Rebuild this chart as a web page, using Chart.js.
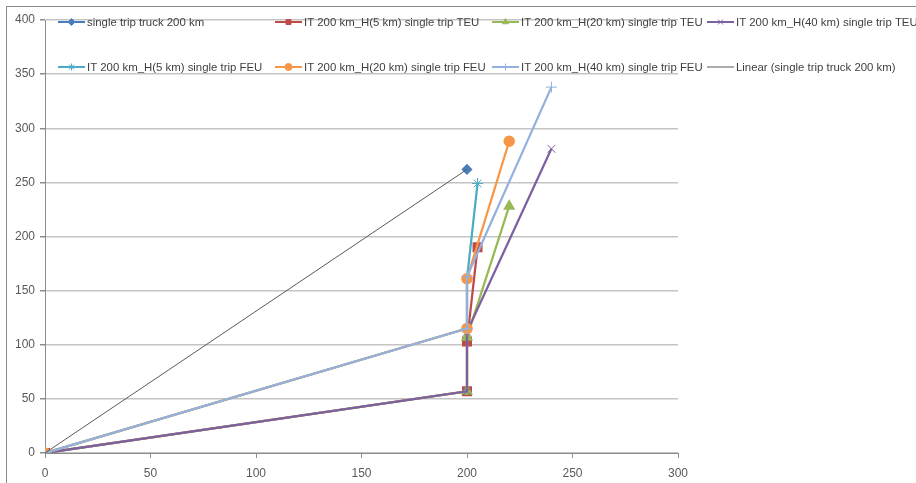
<!DOCTYPE html>
<html lang="en">
<head>
<meta charset="UTF-8">
<title>Single trip cost</title>
<script src="https://cdn.jsdelivr.net/npm/chart.js@4.4.0/dist/chart.umd.min.js"></script>
<style>
    html, body { margin: 0; padding: 0; background: #fff; }
    #wrap { position: relative; width: 916px; height: 483px; overflow: hidden; }
    #frame {
        position: absolute; left: 6px; top: 6px; width: 920px; height: 490px;
        border-left: 1px solid #8a8a8a; border-top: 1px solid #8a8a8a;
    }
    #costChart { position: absolute; left: 0; top: 0; }
</style>
</head>
<body>
<div id="wrap">
    <div id="frame"></div>
    <canvas id="costChart" width="916" height="483"></canvas>
</div>
<script>
    // x = distance (km), y = cost
    const truckX = [0, 200];
    const truckY = [0, 262];

    const teu5X = [0, 200, 200, 205];
    const teu5Y = [0, 57, 103, 190];
    const teu20X = [0, 200, 200, 220];
    const teu20Y = [0, 57, 107, 228];
    const teu40X = [0, 200, 200, 240];
    const teu40Y = [0, 57, 112, 281];

    const feu5X = [0, 200, 200, 205];
    const feu5Y = [0, 115, 161, 249];
    const feu20X = [0, 200, 200, 220];
    const feu20Y = [0, 115, 161, 288];
    const feu40X = [0, 200, 200, 240];
    const feu40Y = [0, 115, 163, 338];

    const trendX = [0, 200];
    const trendY = [0, 262];

    const seriesLabels = [
        'single trip truck 200 km',
        'IT 200 km_H(5 km) single trip TEU',
        'IT 200 km_H(20 km) single trip TEU',
        'IT 200 km_H(40 km) single trip TEU',
        'IT 200 km_H(5 km) single trip FEU',
        'IT 200 km_H(20 km) single trip FEU',
        'IT 200 km_H(40 km) single trip FEU',
        'Linear (single trip truck 200 km)'
    ];
    const xTicks = [0, 50, 100, 150, 200, 250, 300];
    const yTicks = [0, 50, 100, 150, 200, 250, 300, 350, 400];

    function pts(xs, ys) {
        return xs.map((x, i) => ({x: x, y: ys[i]}));
    }

    function series(idx, xs, ys, color, style, extra) {
        return Object.assign({
            label: seriesLabels[idx],
            data: pts(xs, ys),
            showLine: true,
            borderColor: color,
            backgroundColor: color,
            borderWidth: 2.25,
            pointStyle: style,
            pointRadius: 5,
            pointBorderWidth: 1.5,
            pointBorderColor: color,
            pointBackgroundColor: color,
            order: 8 - idx
        }, extra || {});
    }

    const datasets = [
        series(0, truckX, truckY, '#4a7ebb', 'rectRot', {showLine: false, pointRadius: 4.5}),
        series(1, teu5X, teu5Y, '#be4b48', 'rect', {pointRadius: 6}),
        series(2, teu20X, teu20Y, '#98b954', 'triangle', {pointRadius: 5.5}),
        series(3, teu40X, teu40Y, '#7d60a0', 'crossRot', {pointRadius: 5.5, pointBorderWidth: 1}),
        series(4, feu5X, feu5Y, '#4bacc6', 'star', {pointRadius: 5.5, pointBorderWidth: 1}),
        series(5, feu20X, feu20Y, '#f79646', 'circle', {pointRadius: 5}),
        series(6, feu40X, feu40Y, '#93b1dc', 'cross', {pointRadius: 5.5, pointBorderWidth: 1}),
        series(7, trendX, trendY, '#5a5a5a', false, {borderWidth: 1, pointRadius: 0, order: 0})
    ];

    // legend sits inside the plot, two rows of four
    const legendCols = [58, 275, 492, 707];
    const legendRows = [22, 67];

    const sheetLegend = {
        id: 'sheetLegend',
        afterDraw(chart) {
            const ctx = chart.ctx;
            ctx.save();
            ctx.font = '11.4px "Liberation Sans", Arial, sans-serif';
            ctx.textBaseline = 'middle';
            chart.data.datasets.forEach((ds, i) => {
                const x = legendCols[i % 4];
                const y = legendRows[Math.floor(i / 4)];
                ctx.strokeStyle = ds.borderColor;
                ctx.lineWidth = ds.pointStyle ? 2 : 1;
                ctx.beginPath();
                ctx.moveTo(x, y);
                ctx.lineTo(x + 27, y);
                ctx.stroke();
                if (ds.pointStyle) {
                    ctx.fillStyle = ds.backgroundColor;
                    ctx.lineWidth = 1;
                    Chart.helpers.drawPoint(ctx, {
                        pointStyle: ds.pointStyle, radius: 3.5, borderWidth: 1, rotation: 0
                    }, x + 13.5, y);
                }
                ctx.fillStyle = '#3f3f3f';
                ctx.fillText(ds.label, x + 29, y + 0.5);
            });
            ctx.restore();
        }
    };

    new Chart(document.getElementById('costChart'), {
        type: 'scatter',
        data: {datasets: datasets},
        options: {
            responsive: false,
            animation: false,
            layout: {padding: {left: 0, right: 238, top: 20, bottom: 0}},
            plugins: {legend: {display: false}, tooltip: {enabled: false}},
            scales: {
                x: {
                    type: 'linear',
                    min: xTicks[0],
                    max: xTicks[xTicks.length - 1],
                    afterBuildTicks(scale) { scale.ticks = xTicks.map(v => ({value: v})); },
                    afterFit(scale) { scale.height = 30; },
                    ticks: {
                        color: '#595959', padding: 8, maxRotation: 0,
                        font: {family: '"Liberation Sans Narrow", "Liberation Sans", sans-serif', size: 12}
                    },
                    grid: {drawOnChartArea: false, tickLength: 5, color: '#8c8c8c'},
                    border: {color: '#8c8c8c', width: 1}
                },
                y: {
                    type: 'linear',
                    min: yTicks[0],
                    max: yTicks[yTicks.length - 1],
                    afterBuildTicks(scale) { scale.ticks = yTicks.map(v => ({value: v})); },
                    afterFit(scale) { scale.width = 45; },
                    ticks: {
                        color: '#595959', padding: 5,
                        font: {family: '"Liberation Sans", sans-serif', size: 12}
                    },
                    grid: {color: '#c4c4c4', tickColor: '#8c8c8c', tickLength: 5, lineWidth: 1.5},
                    border: {color: '#8c8c8c', width: 1}
                }
            }
        },
        plugins: [sheetLegend]
    });
</script>
</body>
</html>
